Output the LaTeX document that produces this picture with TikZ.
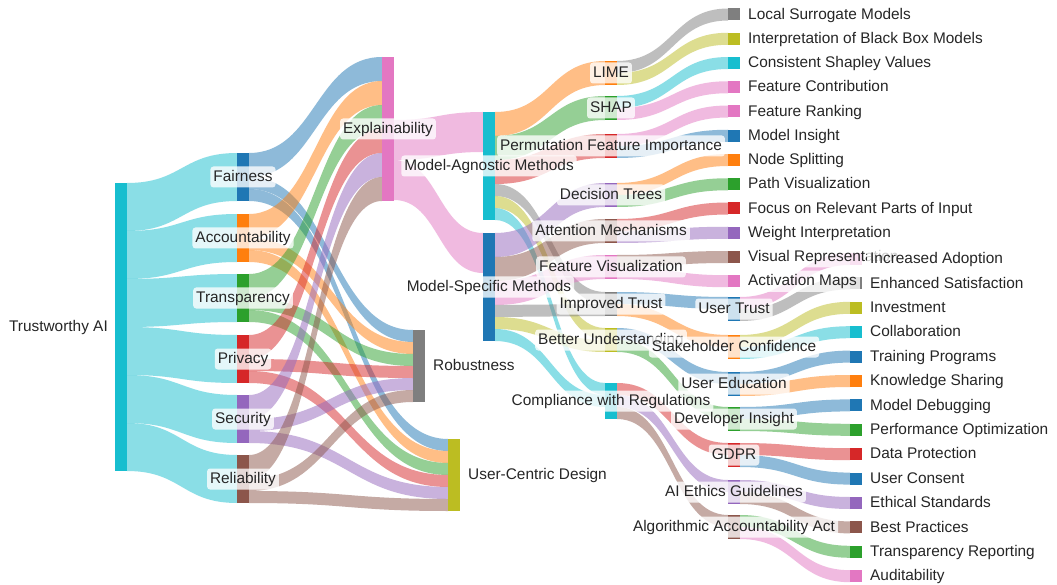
\documentclass[tikz,border=0pt]{standalone}
\usepackage{fontspec}
\setmainfont{Liberation Sans}
\usetikzlibrary{calc}

\definecolor{cblue}{HTML}{1F77B4}
\definecolor{corange}{HTML}{FF7F0E}
\definecolor{cgreen}{HTML}{2CA02C}
\definecolor{cred}{HTML}{D62728}
\definecolor{cpurple}{HTML}{9467BD}
\definecolor{cbrown}{HTML}{8C564B}
\definecolor{cpink}{HTML}{E377C2}
\definecolor{cgrey}{HTML}{7F7F7F}
\definecolor{colive}{HTML}{BCBD22}
\definecolor{ccyan}{HTML}{17BECF}

\pgfdeclarelayer{paper}
\pgfdeclarelayer{flows}
\pgfsetlayers{paper,flows,main}

% band from #1 (offset #2) to #3 (offset #4), width #5, colour #6
\newcommand{\flowband}[6]{%
  \path[fill=#6, fill opacity=0.5]
    let \p1=([yshift=-#2pt]#1.north east), \p2=([yshift=-#4pt]#3.north west), \n1={(\x2-\x1)/2}
    in (\p1) .. controls +(\n1,0pt) and +(-\n1,0pt) .. (\p2)
    -- ++(0pt,-#5pt) .. controls +(-\n1,0pt) and +(\n1,0pt) .. ($(\p1)+(0pt,-#5pt)$) -- cycle;}

\begin{document}
\begin{tikzpicture}[x=1pt, y=-1pt,
    bar/.style 2 args={rectangle, fill=#1, minimum width=12pt, minimum height=#2 pt, inner sep=0pt, outer sep=0pt, anchor=north west},
    lbl/.style={rectangle, fill=white, fill opacity=0.78, text opacity=1, text=black!85, rounded corners=3pt, inner xsep=3pt, inner ysep=0pt, text height=12pt, text depth=2.5pt, minimum height=21pt, font=\fontsize{15.4}{18}\selectfont}
]
    \begin{pgfonlayer}{paper}
        \fill[white] (0,0) rectangle (1057,585);
    \end{pgfonlayer}
    \useasboundingbox (0,0) rectangle (1057,585);

    % bars
    \node [bar={ccyan}{288}] (trust_ai) at (115,183) {};

    \node [bar={cblue}{48}] (fairness) at (237,153) {};
    \node [bar={corange}{48}] (accountability) at (237,214) {};
    \node [bar={cgreen}{48}] (transparency) at (237,274) {};
    \node [bar={cred}{48}] (privacy) at (237,335) {};
    \node [bar={cpurple}{48}] (security) at (237,395) {};
    \node [bar={cbrown}{48}] (reliability) at (237,455) {};

    \node [bar={cpink}{144}] (explainability) at (382,57) {};
    \node [bar={cgrey}{72}] (robustness) at (413,330) {};
    \node [bar={colive}{72}] (user_centric) at (448,439) {};

    \node [bar={ccyan}{108}] (model_agnostic) at (483,112) {};
    \node [bar={cblue}{108}] (model_specific) at (483,233) {};

    \node [bar={corange}{24}] (lime) at (605,61) {};
    \node [bar={cgreen}{24}] (shap) at (605,96) {};
    \node [bar={cred}{24}] (perm_fi) at (605,134) {};
    \node [bar={cpurple}{24}] (dec_trees) at (605,183) {};
    \node [bar={cbrown}{24}] (attention) at (605,219) {};
    \node [bar={cpink}{24}] (feat_vis) at (605,255) {};
    \node [bar={cgrey}{24}] (imp_trust) at (605,292) {};
    \node [bar={colive}{24}] (better_und) at (605,328) {};
    \node [bar={ccyan}{36}] (compliance) at (605,383) {};

    \node [bar={cblue}{24}] (user_trust) at (728,297) {};
    \node [bar={corange}{24}] (stakeholder) at (728,335) {};
    \node [bar={cblue}{24}] (user_edu) at (728,372) {};
    \node [bar={cgreen}{24}] (dev_insight) at (728,407) {};
    \node [bar={cred}{24}] (gdpr) at (728,443) {};
    \node [bar={cpurple}{24}] (ai_ethics) at (728,480) {};
    \node [bar={cbrown}{24}] (algo_act) at (728,515) {};

    \node [bar={cgrey}{12}] (local_surr) at (728,8.5) {};
    \node [bar={colive}{12}] (black_box) at (728,32.75) {};
    \node [bar={ccyan}{12}] (shapley) at (728,57) {};
    \node [bar={cpink}{12}] (feat_contrib) at (728,81.25) {};
    \node [bar={cpink}{12}] (feat_rank) at (728,105.5) {};
    \node [bar={cblue}{12}] (model_insight) at (728,129.75) {};
    \node [bar={corange}{12}] (node_split) at (728,154) {};
    \node [bar={cgreen}{12}] (path_vis) at (728,178.25) {};
    \node [bar={cred}{12}] (focus) at (728,202.5) {};
    \node [bar={cpurple}{12}] (weight_int) at (728,226.75) {};
    \node [bar={cbrown}{12}] (visual_rep) at (728,251) {};
    \node [bar={cpink}{12}] (act_maps) at (728,275.25) {};

    \node [bar={cpink}{12}] (incr_adopt) at (850,253) {};
    \node [bar={cgrey}{12}] (enh_satis) at (850,277.4) {};
    \node [bar={colive}{12}] (investment) at (850,301.8) {};
    \node [bar={ccyan}{12}] (collab) at (850,326.2) {};
    \node [bar={cblue}{12}] (training) at (850,350.6) {};
    \node [bar={corange}{12}] (knowledge) at (850,375) {};
    \node [bar={cblue}{12}] (debugging) at (850,399.4) {};
    \node [bar={cgreen}{12}] (perf_opt) at (850,423.8) {};
    \node [bar={cred}{12}] (data_prot) at (850,448.2) {};
    \node [bar={cblue}{12}] (consent) at (850,472.6) {};
    \node [bar={cpurple}{12}] (ethical) at (850,497) {};
    \node [bar={cbrown}{12}] (best_pract) at (850,521.4) {};
    \node [bar={cgreen}{12}] (transp_rep) at (850,545.8) {};
    \node [bar={cpink}{12}] (audit) at (850,570.2) {};

    % bands
    \begin{pgfonlayer}{flows}
        \flowband{trust_ai}{0}{fairness}{0}{48}{ccyan}
        \flowband{trust_ai}{48}{accountability}{0}{48}{ccyan}
        \flowband{trust_ai}{96}{transparency}{0}{48}{ccyan}
        \flowband{trust_ai}{144}{privacy}{0}{48}{ccyan}
        \flowband{trust_ai}{192}{security}{0}{48}{ccyan}
        \flowband{trust_ai}{240}{reliability}{0}{48}{ccyan}

        \flowband{fairness}{0}{explainability}{0}{24}{cblue}
        \flowband{fairness}{24}{robustness}{0}{12}{cblue}
        \flowband{fairness}{36}{user_centric}{0}{12}{cblue}
        \flowband{accountability}{0}{explainability}{24}{24}{corange}
        \flowband{accountability}{24}{robustness}{12}{12}{corange}
        \flowband{accountability}{36}{user_centric}{12}{12}{corange}
        \flowband{transparency}{0}{explainability}{48}{24}{cgreen}
        \flowband{transparency}{24}{robustness}{24}{12}{cgreen}
        \flowband{transparency}{36}{user_centric}{24}{12}{cgreen}
        \flowband{privacy}{0}{explainability}{72}{24}{cred}
        \flowband{privacy}{24}{robustness}{36}{12}{cred}
        \flowband{privacy}{36}{user_centric}{36}{12}{cred}
        \flowband{security}{0}{explainability}{96}{24}{cpurple}
        \flowband{security}{24}{robustness}{48}{12}{cpurple}
        \flowband{security}{36}{user_centric}{48}{12}{cpurple}
        \flowband{reliability}{0}{explainability}{120}{24}{cbrown}
        \flowband{reliability}{24}{robustness}{60}{12}{cbrown}
        \flowband{reliability}{36}{user_centric}{60}{12}{cbrown}

        \flowband{explainability}{63}{model_agnostic}{0}{40}{cpink}
        \flowband{explainability}{103}{model_specific}{0}{40}{cpink}

        \flowband{model_agnostic}{0}{lime}{0}{24}{corange}
        \flowband{model_agnostic}{24}{shap}{0}{24}{cgreen}
        \flowband{model_agnostic}{48}{perm_fi}{0}{24}{cred}
        \flowband{model_agnostic}{72}{imp_trust}{0}{12}{cgrey}
        \flowband{model_agnostic}{84}{better_und}{0}{12}{colive}
        \flowband{model_agnostic}{96}{compliance}{0}{12}{ccyan}
        \flowband{model_specific}{0}{dec_trees}{0}{24}{cpurple}
        \flowband{model_specific}{24}{attention}{0}{24}{cbrown}
        \flowband{model_specific}{48}{feat_vis}{0}{24}{cpink}
        \flowband{model_specific}{72}{imp_trust}{12}{12}{cgrey}
        \flowband{model_specific}{84}{better_und}{12}{12}{colive}
        \flowband{model_specific}{96}{compliance}{12}{12}{ccyan}

        \flowband{lime}{0}{local_surr}{0}{12}{cgrey}
        \flowband{lime}{12}{black_box}{0}{12}{colive}
        \flowband{shap}{0}{shapley}{0}{12}{ccyan}
        \flowband{shap}{12}{feat_contrib}{0}{12}{cpink}
        \flowband{perm_fi}{0}{feat_rank}{0}{12}{cpink}
        \flowband{perm_fi}{12}{model_insight}{0}{12}{cblue}
        \flowband{dec_trees}{0}{node_split}{0}{12}{corange}
        \flowband{dec_trees}{12}{path_vis}{0}{12}{cgreen}
        \flowband{attention}{0}{focus}{0}{12}{cred}
        \flowband{attention}{12}{weight_int}{0}{12}{cpurple}
        \flowband{feat_vis}{0}{visual_rep}{0}{12}{cbrown}
        \flowband{feat_vis}{12}{act_maps}{0}{12}{cpink}
        \flowband{imp_trust}{0}{user_trust}{0}{12}{cblue}
        \flowband{imp_trust}{12}{stakeholder}{0}{12}{corange}
        \flowband{better_und}{0}{user_edu}{0}{12}{cblue}
        \flowband{better_und}{12}{dev_insight}{0}{12}{cgreen}
        \flowband{compliance}{0}{gdpr}{0}{12}{cred}
        \flowband{compliance}{12}{ai_ethics}{0}{12}{cpurple}
        \flowband{compliance}{24}{algo_act}{0}{12}{cbrown}

        \flowband{user_trust}{0}{incr_adopt}{0}{12}{cpink}
        \flowband{user_trust}{12}{enh_satis}{0}{12}{cgrey}
        \flowband{stakeholder}{0}{investment}{0}{12}{colive}
        \flowband{stakeholder}{12}{collab}{0}{12}{ccyan}
        \flowband{user_edu}{0}{training}{0}{12}{cblue}
        \flowband{user_edu}{12}{knowledge}{0}{12}{corange}
        \flowband{dev_insight}{0}{debugging}{0}{12}{cblue}
        \flowband{dev_insight}{12}{perf_opt}{0}{12}{cgreen}
        \flowband{gdpr}{0}{data_prot}{0}{12}{cred}
        \flowband{gdpr}{12}{consent}{0}{12}{cblue}
        \flowband{ai_ethics}{0}{ethical}{0}{12}{cpurple}
        \flowband{ai_ethics}{12}{best_pract}{0}{12}{cbrown}
        \flowband{algo_act}{0}{transp_rep}{0}{12}{cgreen}
        \flowband{algo_act}{12}{audit}{0}{12}{cpink}
    \end{pgfonlayer}

    % labels
    \node [lbl, anchor=east] (l_trust_ai) at ([xshift=-4pt]trust_ai.west) {Trustworthy AI};
    \node [lbl] (l_fairness) at (fairness) {Fairness};
    \node [lbl] (l_accountability) at (accountability) {Accountability};
    \node [lbl] (l_transparency) at (transparency) {Transparency};
    \node [lbl] (l_privacy) at (privacy) {Privacy};
    \node [lbl] (l_security) at (security) {Security};
    \node [lbl] (l_reliability) at (reliability) {Reliability};
    \node [lbl] (l_explainability) at (explainability) {Explainability};
    \node [lbl, anchor=west] (l_robustness) at ([xshift=5pt]robustness.east) {Robustness};
    \node [lbl, anchor=west] (l_user_centric) at ([xshift=5pt]user_centric.east) {User-Centric Design};
    \node [lbl] (l_model_agnostic) at (model_agnostic) {Model-Agnostic Methods};
    \node [lbl] (l_model_specific) at (model_specific) {Model-Specific Methods};
    \node [lbl] (l_lime) at (lime) {LIME};
    \node [lbl] (l_shap) at (shap) {SHAP};
    \node [lbl] (l_perm_fi) at (perm_fi) {Permutation Feature Importance};
    \node [lbl] (l_dec_trees) at (dec_trees) {Decision Trees};
    \node [lbl] (l_attention) at (attention) {Attention Mechanisms};
    \node [lbl] (l_feat_vis) at (feat_vis) {Feature Visualization};
    \node [lbl] (l_imp_trust) at (imp_trust) {Improved Trust};
    \node [lbl] (l_better_und) at (better_und) {Better Understanding};
    \node [lbl] (l_compliance) at (compliance) {Compliance with Regulations};

    \node [lbl, anchor=west] (l_local_surr) at ([xshift=5pt]local_surr.east) {Local Surrogate Models};
    \node [lbl, anchor=west] (l_black_box) at ([xshift=5pt]black_box.east) {Interpretation of Black Box Models};
    \node [lbl, anchor=west] (l_shapley) at ([xshift=5pt]shapley.east) {Consistent Shapley Values};
    \node [lbl, anchor=west] (l_feat_contrib) at ([xshift=5pt]feat_contrib.east) {Feature Contribution};
    \node [lbl, anchor=west] (l_feat_rank) at ([xshift=5pt]feat_rank.east) {Feature Ranking};
    \node [lbl, anchor=west] (l_model_insight) at ([xshift=5pt]model_insight.east) {Model Insight};
    \node [lbl, anchor=west] (l_node_split) at ([xshift=5pt]node_split.east) {Node Splitting};
    \node [lbl, anchor=west] (l_path_vis) at ([xshift=5pt]path_vis.east) {Path Visualization};
    \node [lbl, anchor=west] (l_focus) at ([xshift=5pt]focus.east) {Focus on Relevant Parts of Input};
    \node [lbl, anchor=west] (l_weight_int) at ([xshift=5pt]weight_int.east) {Weight Interpretation};
    \node [lbl, anchor=west] (l_visual_rep) at ([xshift=5pt]visual_rep.east) {Visual Representation};
    \node [lbl, anchor=west] (l_act_maps) at ([xshift=5pt]act_maps.east) {Activation Maps};

    \node [lbl] (l_user_trust) at (user_trust) {User Trust};
    \node [lbl] (l_stakeholder) at (stakeholder) {Stakeholder Confidence};
    \node [lbl] (l_user_edu) at (user_edu) {User Education};
    \node [lbl] (l_dev_insight) at (dev_insight) {Developer Insight};
    \node [lbl] (l_gdpr) at (gdpr) {GDPR};
    \node [lbl] (l_ai_ethics) at (ai_ethics) {AI Ethics Guidelines};
    \node [lbl] (l_algo_act) at (algo_act) {Algorithmic Accountability Act};

    \node [lbl, anchor=west] (l_incr_adopt) at ([xshift=5pt]incr_adopt.east) {Increased Adoption};
    \node [lbl, anchor=west] (l_enh_satis) at ([xshift=5pt]enh_satis.east) {Enhanced Satisfaction};
    \node [lbl, anchor=west] (l_investment) at ([xshift=5pt]investment.east) {Investment};
    \node [lbl, anchor=west] (l_collab) at ([xshift=5pt]collab.east) {Collaboration};
    \node [lbl, anchor=west] (l_training) at ([xshift=5pt]training.east) {Training Programs};
    \node [lbl, anchor=west] (l_knowledge) at ([xshift=5pt]knowledge.east) {Knowledge Sharing};
    \node [lbl, anchor=west] (l_debugging) at ([xshift=5pt]debugging.east) {Model Debugging};
    \node [lbl, anchor=west] (l_perf_opt) at ([xshift=5pt]perf_opt.east) {Performance Optimization};
    \node [lbl, anchor=west] (l_data_prot) at ([xshift=5pt]data_prot.east) {Data Protection};
    \node [lbl, anchor=west] (l_consent) at ([xshift=5pt]consent.east) {User Consent};
    \node [lbl, anchor=west] (l_ethical) at ([xshift=5pt]ethical.east) {Ethical Standards};
    \node [lbl, anchor=west] (l_best_pract) at ([xshift=5pt]best_pract.east) {Best Practices};
    \node [lbl, anchor=west] (l_transp_rep) at ([xshift=5pt]transp_rep.east) {Transparency Reporting};
    \node [lbl, anchor=west] (l_audit) at ([xshift=5pt]audit.east) {Auditability};
\end{tikzpicture}
\end{document}
